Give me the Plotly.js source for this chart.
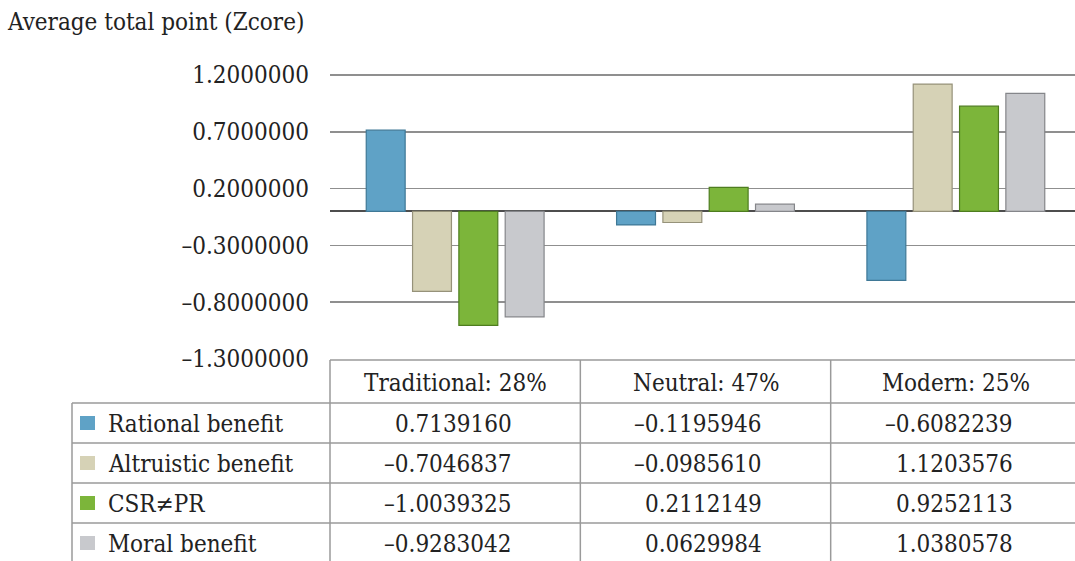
<!DOCTYPE html>
<html>
<head>
<meta charset="utf-8">
<script src="https://cdn.plot.ly/plotly-3.0.1.min.js"></script>
<style>
  html, body { margin: 0; padding: 0; background: #ffffff; }
  #chart { width: 1075px; height: 561px; }
</style>
</head>
<body>
<div id="chart"></div>
<script>
// Segments (columns of the data table / bar groups)
const segments = ['Traditional: 28%', 'Neutral: 47%', 'Modern: 25%'];
// Series names (rows of the data table)
const seriesNames = ['Rational benefit', 'Altruistic benefit', 'CSR\u2260PR', 'Moral benefit'];
// Average Z-scores per segment
const rational   = [0.7139160, -0.1195946, -0.6082239];
const altruistic = [-0.7046837, -0.0985610, 1.1203576];
const csr        = [-1.0039325, 0.2112149, 0.9252113];
const moral      = [-0.9283042, 0.0629984, 1.0380578];
// Y-axis ticks
const tickValues = [1.2, 0.7, 0.2, -0.3, -0.8, -1.3];

const seriesValues = [rational, altruistic, csr, moral];
const fills = ['#5fa2c6', '#d6d2b6', '#7cb53a', '#c8c9cd'];
const edges = ['#3f7896', '#96927a', '#4e7d1f', '#85868a'];

const FONT = '"DejaVu Serif Condensed", "DejaVu Serif", serif';
const FS = 24;
const INK = '#222222';
const RULE = '#9a9a9a';

// Page and plot-area geometry (pixels)
const W = 1075, H = 561;
const M = { l: 330, r: 0, t: 73, b: 202 };
const X_RANGE = [-0.5, 2.476];
const Y_RANGE = [-1.3, 1.2176];

const plotW = W - M.l - M.r;
const plotH = H - M.t - M.b;
// pixel -> paper
const px = X => (X - M.l) / plotW;
const py = Y => (H - M.b - Y) / plotH;
// category position -> paper
const cx = v => (v - X_RANGE[0]) / (X_RANGE[1] - X_RANGE[0]);

// Minus sign drawn as an en dash, seven decimals
const fmt = v => v.toFixed(7).replace('-', '\u2013');

const traces = seriesValues.map((vals, i) => ({
  type: 'bar',
  name: seriesNames[i],
  x: [0, 1, 2],
  y: vals,
  marker: { color: fills[i], line: { color: edges[i], width: 1.2 } },
  showlegend: false,
  hoverinfo: 'name+y'
}));

// Data table beneath the plot
const tableTop = 360;
const headerBottom = 403;
const rowH = 40;
const tableLeft = 72;
const tableBottom = H + 2;

const shapes = [];
const line = (x0, y0, x1, y1) => ({
  type: 'line', xref: 'paper', yref: 'paper',
  x0, y0, x1, y1, line: { color: RULE, width: 1.5 }, layer: 'above'
});

// header top rule over the segment columns
shapes.push(line(px(M.l), py(tableTop), 1, py(tableTop)));
// rules under the header and each row
for (let r = 0; r < seriesNames.length; r++) {
  const y = headerBottom + r * rowH;
  shapes.push(line(px(tableLeft), py(y), 1, py(y)));
}
// left edge of the legend column
shapes.push(line(px(tableLeft), py(headerBottom), px(tableLeft), py(tableBottom)));
// column boundaries on the category boundaries
for (let c = 0; c < segments.length; c++) {
  const x = cx(c - 0.5);
  shapes.push(line(x, py(tableTop), x, py(tableBottom)));
}

const annotations = [];
segments.forEach((s, c) => {
  annotations.push({
    xref: 'paper', yref: 'paper', x: cx(c), y: py((tableTop + headerBottom) / 2 + 1),
    xanchor: 'center', yanchor: 'middle', text: s, showarrow: false,
    font: { family: FONT, size: FS, color: INK }
  });
});
seriesNames.forEach((name, r) => {
  const yc = headerBottom + r * rowH + rowH / 2;
  shapes.push({
    type: 'rect', xref: 'paper', yref: 'paper',
    x0: px(80), x1: px(95), y0: py(yc - 7), y1: py(yc + 7),
    fillcolor: fills[r], line: { width: 0 }, layer: 'above'
  });
  annotations.push({
    xref: 'paper', yref: 'paper', x: px(106), y: py(yc + 1),
    xanchor: 'left', yanchor: 'middle', text: name, showarrow: false,
    font: { family: FONT, size: FS, color: INK }
  });
  seriesValues[r].forEach((v, c) => {
    annotations.push({
      xref: 'paper', yref: 'paper', x: cx(c + 0.235), y: py(yc + 1),
      xanchor: 'right', yanchor: 'middle', text: fmt(v), showarrow: false,
      font: { family: FONT, size: FS, color: INK }
    });
  });
});

const layout = {
  width: W, height: H,
  margin: M,
  paper_bgcolor: '#ffffff',
  plot_bgcolor: '#ffffff',
  barmode: 'group',
  bargap: 0.26,
  bargroupgap: 0.16,
  font: { family: FONT, size: FS, color: INK },
  title: {
    text: 'Average total point (Zcore)',
    xref: 'container', yref: 'container',
    x: 8 / W, xanchor: 'left',
    y: 1 - 22 / H, yanchor: 'middle',
    font: { family: FONT, size: FS, color: INK }
  },
  xaxis: {
    range: X_RANGE,
    showticklabels: false,
    showgrid: false,
    zeroline: false,
    showline: false,
    ticks: '',
    fixedrange: true
  },
  yaxis: {
    range: Y_RANGE,
    tickvals: tickValues,
    ticktext: tickValues.map(fmt),
    tickfont: { family: FONT, size: FS, color: INK },
    ticks: '',
    ticklabelstandoff: 20,
    showgrid: true,
    gridcolor: '#8f8f8f',
    gridwidth: 1.5,
    zeroline: true,
    zerolinecolor: '#4d4d4d',
    zerolinewidth: 2,
    showline: false,
    fixedrange: true
  },
  shapes,
  annotations
};

Plotly.newPlot('chart', traces, layout, { displayModeBar: false, staticPlot: true });
</script>
</body>
</html>
